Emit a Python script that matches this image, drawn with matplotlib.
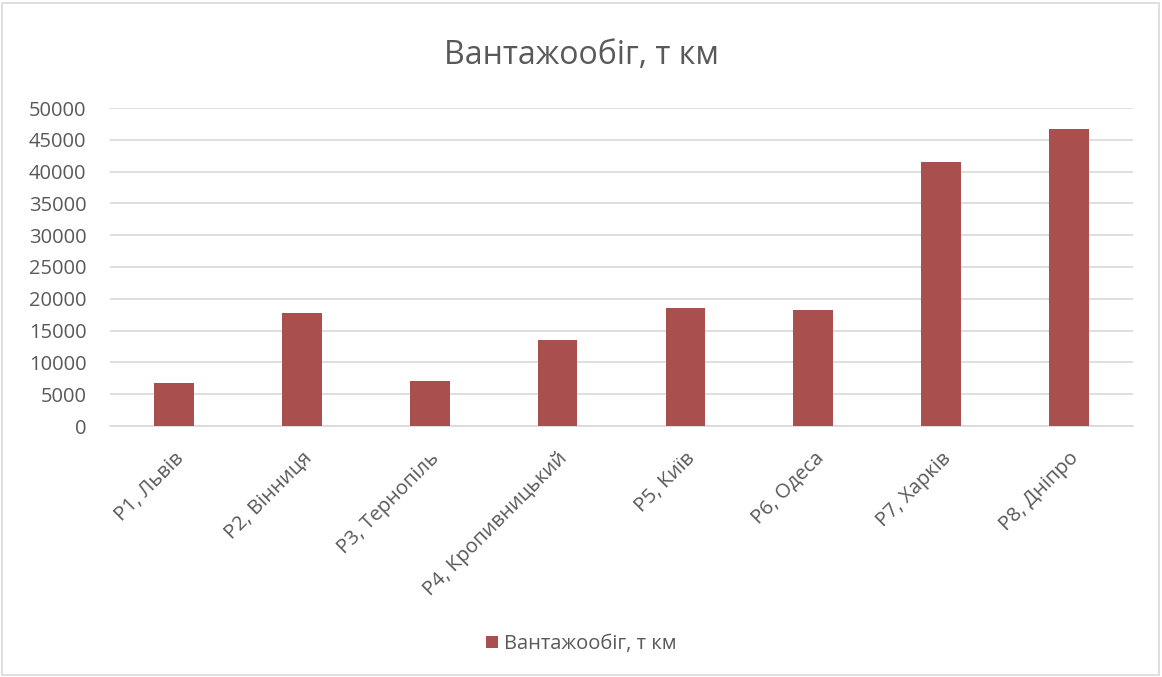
import numpy as np
import matplotlib.pyplot as plt
from matplotlib.patches import Rectangle

categories = ["P1, Львів", "P2, Вінниця", "P3, Тернопіль", "P4, Кропивницький",
              "P5, Київ", "P6, Одеса", "P7, Харків", "P8, Дніпро"]
values = [6800, 17700, 7000, 13500, 18600, 18300, 41500, 46700]
y_ticks = [0, 5000, 10000, 15000, 20000, 25000, 30000, 35000, 40000, 45000, 50000]
series_name = "Вантажообіг, т км"

plt.rcParams['font.family'] = ['Open Sans', 'DejaVu Sans']
text_col = '#595959'
bar_col = '#A9504F'

fig = plt.figure(figsize=(11.62, 6.77), dpi=100)
ax = fig.add_axes([110/1162, 1 - 426/677, (1133-110)/1162, (426-108)/677])

x = np.arange(len(categories))
ax.bar(x, values, width=0.31, color=bar_col, label=series_name, zorder=3)

ax.set_xlim(-0.5, len(categories) - 0.5)
ax.set_ylim(0, 50000)
ax.set_yticks(y_ticks)
ax.set_yticklabels([str(v) for v in y_ticks], fontsize=14.5, color=text_col)
ax.set_xticks(x)
ax.set_xticklabels(categories, rotation=45, ha='right', rotation_mode='anchor',
                   fontsize=14.5, color=text_col)
ax.tick_params(axis='y', length=0, pad=17)
ax.tick_params(axis='x', length=0, pad=16)
ax.grid(axis='y', color='#D9D9D9', linewidth=1.2, zorder=0)
for s in ['top', 'right', 'left']:
    ax.spines[s].set_visible(False)
ax.spines['bottom'].set_color('#D9D9D9')
ax.spines['bottom'].set_linewidth(1.2)

fig.text(0.5, 1 - 55/677, series_name, ha='center', va='center',
         fontsize=23, color=text_col)

fig.legend(loc='center', bbox_to_anchor=(0.5, 1 - 644/677), frameon=False,
           fontsize=14.5, labelcolor=text_col, handlelength=0.6, handleheight=0.6,
           handletextpad=0.3)

fig.patches.append(Rectangle((2/1162, 2/677), 1 - 5/1162, 1 - 5/677,
                             transform=fig.transFigure, fill=False,
                             edgecolor='#D9D9D9', linewidth=1.2))

fig.savefig('out.png', dpi=100, facecolor='white')
